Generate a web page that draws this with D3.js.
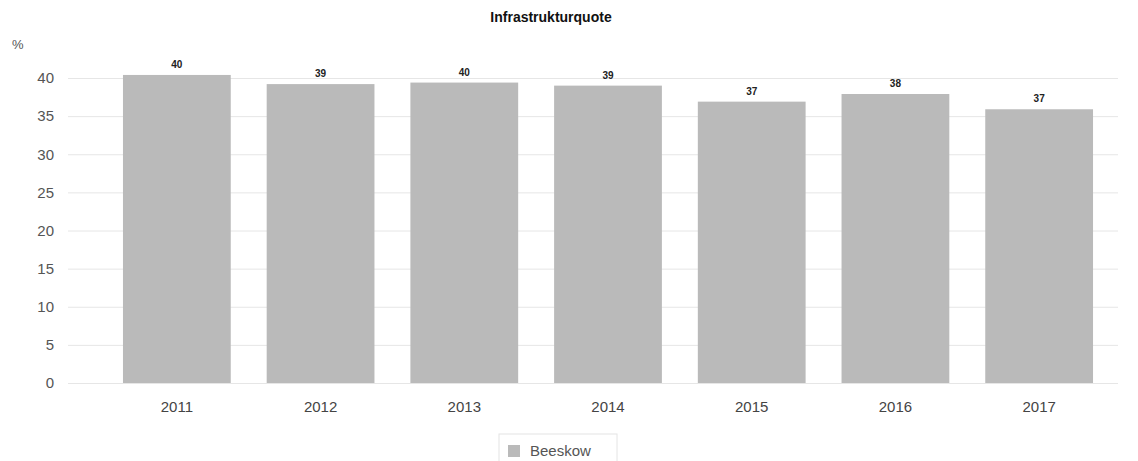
<!DOCTYPE html>
<html><head><meta charset="utf-8">
<script src="https://cdn.jsdelivr.net/npm/d3@7"></script>
<style>body{margin:0;background:#fff;font-family:"Liberation Sans",Arial,sans-serif;}</style>
</head><body><svg id="c" width="1138" height="461"></svg>
<script>
const years = ["2011","2012","2013","2014","2015","2016","2017"];
const values = [40.4, 39.2, 39.4, 39.0, 36.9, 37.9, 35.9];
const valueLabels = ["40","39","40","39","37","38","37"];
const yTicks = [0,5,10,15,20,25,30,35,40];
const title = "Infrastrukturquote";
const unit = "%";
const seriesName = "Beeskow";

const svg = d3.select("#c");
const x = d3.scaleBand().domain(years).range([105,1111]).paddingInner(0.25).paddingOuter(0.125);
const y = d3.scaleLinear().domain([0,40]).range([383,78]);

svg.append("text").attr("x",551).attr("y",22).attr("text-anchor","middle")
  .attr("font-size",14).attr("font-weight","bold").attr("fill","#111").text(title);
svg.append("text").attr("x",12).attr("y",49).attr("font-size",13).attr("fill","#555").text(unit);

const ya = svg.append("g").attr("transform","translate(68,0)")
  .call(d3.axisLeft(y).tickValues(yTicks).tickSize(-1050).tickPadding(14));
ya.select(".domain").remove();
ya.selectAll(".tick line").attr("stroke","#e6e6e6").attr("stroke-width",1);
ya.selectAll(".tick text").attr("font-size",15).attr("fill","#555").attr("font-family","Liberation Sans, Arial, sans-serif");

svg.append("g").selectAll("rect").data(years).join("rect")
  .attr("x",d=>x(d)).attr("width",x.bandwidth())
  .attr("y",(d,i)=>y(values[i])).attr("height",(d,i)=>y(0)-y(values[i]))
  .attr("fill","#bababa");

svg.append("g").selectAll("text").data(years).join("text")
  .attr("x",d=>x(d)+x.bandwidth()/2).attr("y",(d,i)=>y(values[i])-7)
  .attr("text-anchor","middle").attr("font-size",10).attr("font-weight","bold").attr("fill","#222")
  .text((d,i)=>valueLabels[i]);

const xa = svg.append("g").attr("transform","translate(0,383)")
  .call(d3.axisBottom(x).tickSize(0).tickPadding(18));
xa.select(".domain").remove();
xa.selectAll(".tick text").attr("font-size",15).attr("fill","#444").attr("font-family","Liberation Sans, Arial, sans-serif");

const lg = svg.append("g");
lg.append("rect").attr("x",499).attr("y",434).attr("width",118).attr("height",30)
  .attr("fill","none").attr("stroke","#e4e4e4");
lg.append("rect").attr("x",508).attr("y",445).attr("width",12).attr("height",12).attr("fill","#bababa");
lg.append("text").attr("x",530).attr("y",456).attr("font-size",15).attr("fill","#555").text(seriesName);
</script></body></html>
